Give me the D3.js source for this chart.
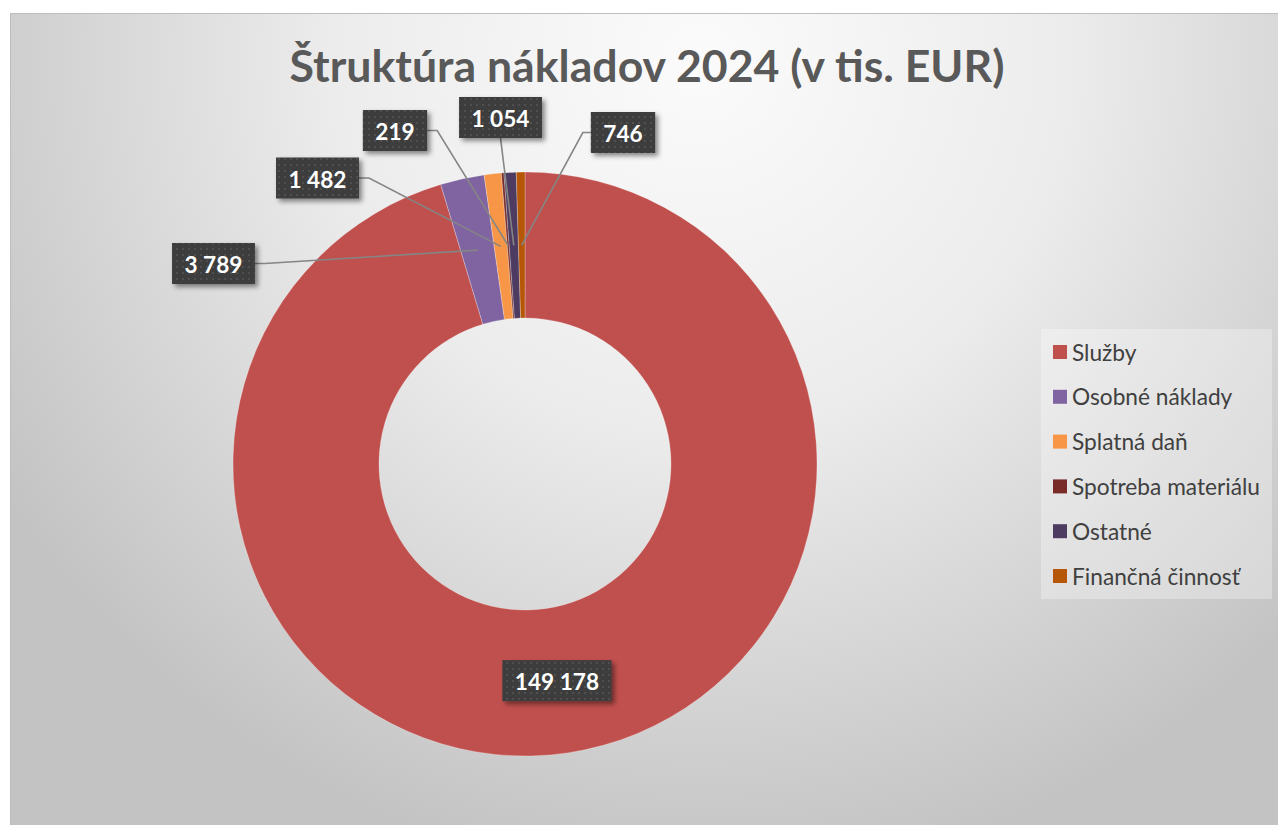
<!DOCTYPE html>
<html lang="sk">
<head>
<meta charset="utf-8">
<title>Štruktúra nákladov 2024</title>
<script src="https://cdn.jsdelivr.net/npm/d3@7"></script>
<style>
  html, body { margin: 0; padding: 0; background: #ffffff; }
  #graf { width: 1278px; height: 825px; }
</style>
</head>
<body>
<div id="graf"></div>
<script>
// data
const kategorie = ["Služby", "Osobné náklady", "Splatná daň", "Spotreba materiálu", "Ostatné", "Finančná činnosť"];
const hodnoty = [149178, 3789, 1482, 219, 1054, 746];
const titulok = "Štruktúra nákladov 2024 (v tis. EUR)";

// styl
const farby = ["#C0504D", "#8064A2", "#F79646", "#772C2A", "#4D3B62", "#B65708"];
// posun stredu stitkov od stredu grafu (null = v tazisku vysece)
const posunStitkov = [null, [-311.5, -200.5], [-207.5, -286], [-130, -333.5], [-24.5, -346.5], [98, -331.5]];

const width = 1278;
const height = 825;
const stred = { x: 525, y: 464 };
const polomer = 292;
const vnutorny = 146;
const font = "Lato, 'Open Sans', 'DejaVu Sans', sans-serif";

const sk = d3.formatLocale({ decimal: ",", thousands: " ", grouping: [3], currency: ["", " €"] });
const fmt = sk.format(",d");

const svg = d3.select("#graf")
  .append("svg")
  .attr("width", width)
  .attr("height", height)
  .attr("viewBox", `0 0 ${width} ${height}`);

const defs = svg.append("defs");

const grad = defs.append("radialGradient")
  .attr("id", "pozadie")
  .attr("gradientUnits", "userSpaceOnUse")
  .attr("cx", 700).attr("cy", 60).attr("r", 820);
grad.append("stop").attr("offset", 0).attr("stop-color", "#fbfbfb");
grad.append("stop").attr("offset", 0.45).attr("stop-color", "#ececec");
grad.append("stop").attr("offset", 1).attr("stop-color", "#c3c3c3");

const vzor = defs.append("pattern")
  .attr("id", "bodky")
  .attr("patternUnits", "userSpaceOnUse")
  .attr("width", 6).attr("height", 6);
vzor.append("rect").attr("width", 6).attr("height", 6).attr("fill", "#3d3d3d");
vzor.append("rect").attr("x", 2).attr("y", 2).attr("width", 2).attr("height", 2).attr("fill", "#4f4f4f");

const tien = defs.append("filter")
  .attr("id", "tien")
  .attr("x", "-20%").attr("y", "-30%").attr("width", "150%").attr("height", "180%");
tien.append("feDropShadow")
  .attr("dx", 3).attr("dy", 3)
  .attr("stdDeviation", 2.5)
  .attr("flood-color", "#000")
  .attr("flood-opacity", 0.45);

// plocha grafu
svg.append("rect")
  .attr("x", 10.5).attr("y", 13.5)
  .attr("width", width).attr("height", height)
  .attr("fill", "url(#pozadie)")
  .attr("stroke", "#bdbdbd")
  .attr("stroke-width", 1);

// titulok - velkost pisma podla sirky
const tit = svg.append("text")
  .attr("x", 647)
  .attr("y", 82)
  .attr("text-anchor", "middle")
  .attr("font-family", font)
  .attr("font-weight", 700)
  .attr("font-size", 40)
  .attr("fill", "#595959")
  .text(titulok);
const titW = tit.node().getComputedTextLength();
tit.attr("font-size", 40 * 715 / titW);

// prstenec
const pie = d3.pie().sort(null).value(d => d).startAngle(0).endAngle(2 * Math.PI);
const arc = d3.arc().innerRadius(vnutorny).outerRadius(polomer);
const oblúky = pie(hodnoty);

const g = svg.append("g").attr("transform", `translate(${stred.x},${stred.y})`);

g.selectAll("path.vysek")
  .data(oblúky)
  .join("path")
  .attr("class", "vysek")
  .attr("d", arc)
  .attr("fill", (d, i) => farby[i])
  .attr("stroke", "rgba(255,255,255,0.35)")
  .attr("stroke-width", 0.75);

// stitky
const gStitky = svg.append("g");
const test = gStitky.append("text")
  .attr("font-family", font).attr("font-weight", 700).attr("font-size", 22)
  .text(fmt(3789));
const fsStitok = 22 * 58 / test.node().getComputedTextLength();
test.remove();

const padX = 12.5;
const vyska = 41;

oblúky.forEach((d, i) => {
  const c = arc.centroid(d);
  const kotva = [stred.x + c[0], stred.y + c[1]];
  const pos = posunStitkov[i] ? [stred.x + posunStitkov[i][0], stred.y + posunStitkov[i][1]] : kotva;

  const t = gStitky.append("text")
    .attr("font-family", font)
    .attr("font-weight", 700)
    .attr("font-size", fsStitok)
    .attr("fill", "#ffffff")
    .attr("text-anchor", "middle")
    .attr("dominant-baseline", "central")
    .attr("x", pos[0])
    .attr("y", pos[1] + 1)
    .text(fmt(d.data));
  const tw = t.node().getComputedTextLength();
  const bw = tw + padX * 2;
  const box = { l: pos[0] - bw / 2, r: pos[0] + bw / 2, t: pos[1] - vyska / 2, b: pos[1] + vyska / 2 };

  if (posunStitkov[i]) {
    let body;
    if (kotva[0] > box.r) body = [[box.r, pos[1]], [box.r + 10, pos[1]], kotva];
    else if (kotva[0] < box.l) body = [[box.l, pos[1]], [box.l - 8, pos[1]], kotva];
    else body = [[pos[0], box.b], kotva];
    gStitky.insert("path", ":first-child")
      .attr("d", d3.line()(body))
      .attr("fill", "none")
      .attr("stroke", "#858585")
      .attr("stroke-width", 1.6);
  }

  gStitky.insert("rect", function () { return t.node(); })
    .attr("x", box.l)
    .attr("y", box.t)
    .attr("width", bw)
    .attr("height", vyska)
    .attr("fill", "url(#bodky)")
    .attr("filter", "url(#tien)");
});

// legenda
const leg = svg.append("g");
leg.append("rect")
  .attr("x", 1041).attr("y", 329)
  .attr("width", 231).attr("height", 270)
  .attr("fill", "#ffffff")
  .attr("fill-opacity", 0.3);

const riadok = d3.scalePoint().domain(kategorie).range([352, 576]);

const polozky = leg.selectAll("g.polozka")
  .data(kategorie)
  .join("g")
  .attr("class", "polozka")
  .attr("transform", d => `translate(1053,${riadok(d)})`);

polozky.append("rect")
  .attr("y", -7)
  .attr("width", 14)
  .attr("height", 14)
  .attr("fill", (d, i) => farby[i]);

const legTexty = polozky.append("text")
  .attr("x", 19)
  .attr("y", 0)
  .attr("dominant-baseline", "central")
  .attr("font-family", font)
  .attr("font-size", 19)
  .attr("fill", "#404040")
  .text(d => d);

const najdlhsi = legTexty.filter(d => d === "Spotreba materiálu").node().getComputedTextLength();
legTexty.attr("font-size", 19 * 188 / najdlhsi);
</script>
</body>
</html>
